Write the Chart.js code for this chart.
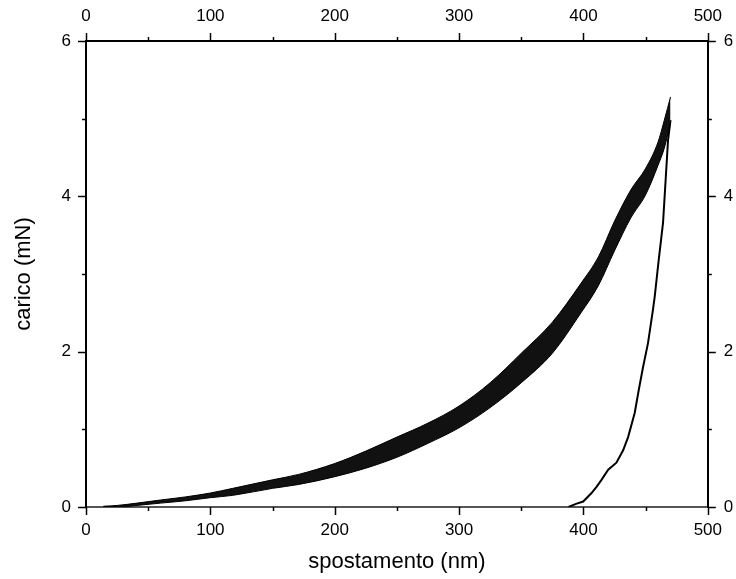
<!doctype html>
<html>
<head>
<title>Chart</title>
<script src="https://cdn.jsdelivr.net/npm/chart.js@4/dist/chart.umd.min.js"></script>
<style>
body { margin: 0; background: #fff; }
canvas { display: block; }
</style>
</head>
<body>
	<canvas id="canvas" width="736" height="579"></canvas>

	<script>
		// loading branch: x positions with lower / upper edge of the noisy band
		var loadX     = [14, 25, 41, 60, 80, 100, 118, 150, 171, 200, 225, 250, 275, 300, 325, 350, 375, 398, 412, 425, 438, 450, 460, 465, 470];
		var loadLower = [0, 0, 0.02, 0.05, 0.08, 0.12, 0.15, 0.24, 0.29, 0.39, 0.50, 0.64, 0.82, 1.02, 1.28, 1.60, 1.98, 2.50, 2.85, 3.30, 3.72, 4.02, 4.40, 4.62, 4.95];
		var loadUpper = [0.01, 0.02, 0.05, 0.09, 0.13, 0.18, 0.24, 0.35, 0.42, 0.56, 0.72, 0.90, 1.08, 1.30, 1.60, 1.98, 2.38, 2.88, 3.22, 3.68, 4.08, 4.36, 4.70, 4.98, 5.28];

		// unloading branch
		var unloadX = [470, 468, 464, 460.5, 457.3, 455.9, 451.9, 447.9, 444.5, 441.2, 435.9, 431.9, 426.5, 419.9, 414.5, 410.5, 406.5, 399.8, 394, 388];
		var unloadY = [4.98, 4.72, 3.66, 3.18, 2.71, 2.54, 2.11, 1.80, 1.51, 1.21, 0.90, 0.73, 0.57, 0.48, 0.35, 0.26, 0.18, 0.07, 0.04, 0.0];

		var xTicks = [0, 100, 200, 300, 400, 500];
		var yTicks = [0, 2, 4, 6];

		var fontFamily = "'Liberation Sans', Arial, sans-serif";

		function pts(xs, ys) {
			return xs.map(function (x, i) { return {x: x, y: ys[i]}; });
		}

		// outward tick marks on all four sides, major + minor
		var tickMarks = {
			id: 'tickMarks',
			afterDraw: function (chart) {
				var ctx = chart.ctx;
				ctx.save();
				ctx.strokeStyle = '#000';
				ctx.lineWidth = 1.5;
				['x', 'x2'].forEach(function (id) {
					var s = chart.scales[id];
					for (var v = s.min; v <= s.max; v += 50) {
						var len = (v % 100 === 0) ? 8 : 4;
						var px = Math.round(s.getPixelForValue(v)) + 0.5;
						var y0 = id === 'x' ? s.top : s.bottom;
						var dir = id === 'x' ? 1 : -1;
						ctx.beginPath();
						ctx.moveTo(px, y0);
						ctx.lineTo(px, y0 + dir * len);
						ctx.stroke();
					}
				});
				['y', 'y2'].forEach(function (id) {
					var s = chart.scales[id];
					for (var v = s.min; v <= s.max; v += 1) {
						var len = (v % 2 === 0) ? 8 : 4;
						var py = Math.round(s.getPixelForValue(v)) + 0.5;
						var x0 = id === 'y' ? s.right : s.left;
						var dir = id === 'y' ? -1 : 1;
						ctx.beginPath();
						ctx.moveTo(x0, py);
						ctx.lineTo(x0 + dir * len, py);
						ctx.stroke();
					}
				});
				ctx.restore();
			}
		};

		function fixSize(prop, size) {
			return function (scale) { scale[prop] = size; };
		}

		var tickFont = {family: fontFamily, size: 17};
		var titleFont = {family: fontFamily, size: 22};

		var ctx = document.getElementById('canvas').getContext('2d');
		window.myChart = new Chart(ctx, {
			type: 'line',
			data: {
				datasets: [{
					label: 'lower',
					data: pts(loadX, loadLower),
					borderColor: '#000',
					borderWidth: 1,
					pointRadius: 0,
					cubicInterpolationMode: 'monotone',
					fill: false
				}, {
					label: 'upper',
					data: pts(loadX, loadUpper),
					borderColor: '#000',
					backgroundColor: '#111',
					borderWidth: 1,
					pointRadius: 0,
					cubicInterpolationMode: 'monotone',
					fill: '-1'
				}, {
					label: 'unload',
					data: pts(unloadX, unloadY),
					borderColor: '#000',
					borderWidth: 2,
					pointRadius: 0,
					fill: false
				}]
			},
			options: {
				responsive: false,
				animation: false,
				layout: {padding: 0},
				plugins: {
					legend: {display: false},
					tooltip: {enabled: false}
				},
				scales: {
					x: {
						type: 'linear', position: 'bottom', min: 0, max: 500,
						afterFit: fixSize('height', 72),
						afterBuildTicks: function (s) { s.ticks = xTicks.map(function (v) { return {value: v}; }); },
						grid: {display: false, drawTicks: false},
						border: {display: true, color: '#555', width: 2},
						ticks: {color: '#000', font: tickFont, padding: 13, maxRotation: 0},
						title: {display: true, text: 'spostamento (nm)', color: '#000', font: titleFont, padding: {top: 0, bottom: 4}}
					},
					x2: {
						type: 'linear', position: 'top', min: 0, max: 500,
						afterFit: fixSize('height', 41),
						afterBuildTicks: function (s) { s.ticks = xTicks.map(function (v) { return {value: v}; }); },
						grid: {display: false, drawTicks: false},
						border: {display: true, color: '#000', width: 2},
						ticks: {color: '#000', font: tickFont, padding: 14, maxRotation: 0}
					},
					y: {
						type: 'linear', position: 'left', min: 0, max: 6,
						afterFit: fixSize('width', 86),
						afterBuildTicks: function (s) { s.ticks = yTicks.map(function (v) { return {value: v}; }); },
						grid: {display: false, drawTicks: false},
						border: {display: true, color: '#000', width: 2},
						ticks: {color: '#000', font: tickFont, padding: 15},
						title: {display: true, text: 'carico (mN)', color: '#000', font: titleFont, padding: {top: 11, bottom: 0}}
					},
					y2: {
						type: 'linear', position: 'right', min: 0, max: 6,
						afterFit: fixSize('width', 25),
						afterBuildTicks: function (s) { s.ticks = yTicks.map(function (v) { return {value: v}; }); },
						grid: {display: false, drawTicks: false},
						border: {display: true, color: '#000', width: 2},
						ticks: {color: '#000', font: tickFont, padding: 16}
					}
				}
			},
			plugins: [tickMarks]
		});
	</script>
</body>
</html>
